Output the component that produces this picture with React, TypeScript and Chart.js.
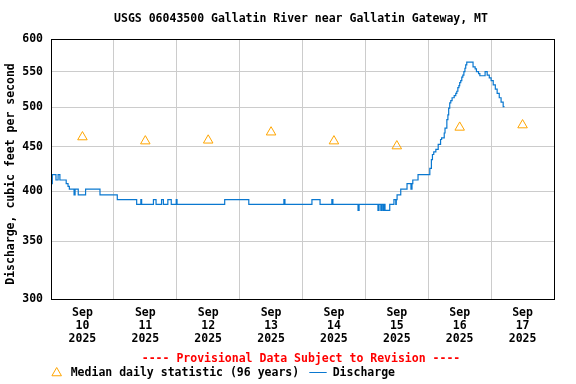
import React, { useEffect, useRef } from 'react';
import { Chart, registerables } from 'chart.js';

Chart.register(...registerables);

const TITLE = 'USGS 06043500 Gallatin River near Gallatin Gateway, MT';
const Y_TITLE = 'Discharge, cubic feet per second';
const PROVISIONAL = '---- Provisional Data Subject to Revision ----';
const MEDIAN_LABEL = 'Median daily statistic (96 years)';
const DISCHARGE_LABEL = 'Discharge';

const MONTH_LABEL = 'Sep';
const YEAR_LABEL = '2025';
const DAY_LABELS = ['10', '11', '12', '13', '14', '15', '16', '17'];
const Y_TICKS = [300, 350, 400, 450, 500, 550, 600];

// hours since Sep 10 00:00
const MEDIAN_HOURS = [12, 36, 60, 84, 108, 132, 156, 180];
const MEDIAN_VALUES = [462, 457, 458, 468, 457, 451, 474, 477];

const DISCHARGE_HOURS = [
  0.0, 0.1, 0.5, 1.9, 2.7, 3.4, 5.8, 6.5, 7.0, 8.8, 9.2, 10.4, 13.2, 18.7, 25.3, 32.7,
  34.3, 34.6, 39.1, 40.1, 42.2, 42.9, 44.6, 45.9, 47.8, 48.1, 66.3, 75.5, 88.9, 89.3,
  99.6, 102.7, 107.2, 107.6, 117.2, 117.6, 124.8, 125.2, 125.9, 126.3, 126.8, 127.1,
  127.5, 129.3, 130.9, 131.6, 131.8, 132.1, 133.5, 135.9, 137.4, 137.8, 138.1, 140.1,
  144.6, 145.2, 145.6, 146.1, 146.9, 147.8, 148.7, 149.1, 150.1, 150.4, 151.1, 151.5,
  151.8, 152.2, 152.6, 153.1, 153.9, 154.5, 154.9, 155.3, 155.7, 156.0, 156.4, 156.8,
  157.2, 157.6, 158.0, 158.3, 158.7, 161.1, 161.9, 162.4, 163.2, 163.7, 165.7, 166.5,
  167.3, 168.0, 168.8, 169.6, 170.3, 171.1, 171.8, 172.6, 173.1,
];
const DISCHARGE_VALUES = [
  401, 408, 418, 412, 418, 412, 408, 405, 402, 396, 402, 396, 402, 396, 391, 386,
  391, 386, 391, 386, 391, 386, 391, 386, 391, 386, 391, 386, 391, 386,
  391, 386, 391, 386, 380, 386, 380, 386, 380, 386, 380, 386,
  380, 386, 391, 386, 391, 396, 402, 408, 402, 408, 412, 418,
  425, 435, 441, 444, 447, 453, 459, 461, 467, 473, 484, 490,
  499, 506, 509, 513, 516, 519, 522, 527, 530, 534, 537, 542,
  545, 550, 555, 560, 564, 557, 554, 550, 547, 544, 550, 545,
  541, 537, 531, 525, 519, 513, 507, 501, 501,
];

const FONT_FAMILY = '"DejaVu Sans Mono", monospace';
const FONT = `bold 11.5px ${FONT_FAMILY}`;
const LINE_COLOR = '#0a78d0';
const MEDIAN_COLOR = '#ffa500';
const GRID_COLOR = '#cccccc';

const decorPlugin = {
  id: 'decor',
  afterDraw(chart: any) {
    const { ctx, chartArea } = chart;
    ctx.save();
    // frame
    ctx.strokeStyle = '#000';
    ctx.lineWidth = 1;
    const l = Math.round(chartArea.left) + 0.5;
    const t = Math.round(chartArea.top) + 0.5;
    const r = Math.round(chartArea.right) + 0.5;
    const b = Math.round(chartArea.bottom) + 0.5;
    ctx.strokeRect(l, t, r - l, b - t);

    ctx.font = FONT;
    ctx.textBaseline = 'middle';
    // title
    ctx.fillStyle = '#000';
    ctx.textAlign = 'center';
    ctx.fillText(TITLE, 301, 19);
    // y title
    ctx.save();
    ctx.translate(11.5, 174);
    ctx.rotate(-Math.PI / 2);
    ctx.fillText(Y_TITLE, 0, 0);
    ctx.restore();
    // provisional
    ctx.fillStyle = '#ff0000';
    ctx.fillText(PROVISIONAL, 301, 359);
    // legend
    ctx.textAlign = 'left';
    ctx.fillStyle = '#000';
    const cx = 56.7, cy = 373, rad = 5.5;
    ctx.beginPath();
    for (let i = 0; i < 3; i++) {
      const a = (i * 2 * Math.PI) / 3;
      const px = cx + Math.sin(a) * rad;
      const py = cy - Math.cos(a) * rad;
      if (i === 0) ctx.moveTo(px, py); else ctx.lineTo(px, py);
    }
    ctx.closePath();
    ctx.strokeStyle = MEDIAN_COLOR;
    ctx.stroke();
    ctx.fillText(MEDIAN_LABEL, 70.7, 373);
    ctx.beginPath();
    ctx.moveTo(309.3, 372.5);
    ctx.lineTo(326.7, 372.5);
    ctx.strokeStyle = LINE_COLOR;
    ctx.stroke();
    ctx.fillText(DISCHARGE_LABEL, 332.7, 373);
    ctx.restore();
  },
};

export default function App() {
  const ref = useRef<HTMLCanvasElement>(null);
  useEffect(() => {
    if (!ref.current) return;
    const tickFont = { family: FONT_FAMILY, size: 11.5, weight: 'bold' as const, lineHeight: 1.12 };
    const chart = new Chart(ref.current, {
      type: 'line',
      data: {
        datasets: [
          {
            label: DISCHARGE_LABEL,
            data: DISCHARGE_HOURS.map((h, i) => ({ x: h, y: DISCHARGE_VALUES[i] })),
            borderColor: LINE_COLOR,
            borderWidth: 1.2,
            pointRadius: 0,
            stepped: true,
            fill: false,
          },
          {
            label: MEDIAN_LABEL,
            data: MEDIAN_HOURS.map((h, i) => ({ x: h, y: MEDIAN_VALUES[i] })),
            showLine: false,
            pointStyle: 'triangle',
            pointRadius: 5.5,
            pointBorderColor: MEDIAN_COLOR,
            pointBackgroundColor: 'rgba(0,0,0,0)',
            pointBorderWidth: 1,
            borderColor: MEDIAN_COLOR,
          },
        ],
      },
      options: {
        responsive: false,
        animation: false,
        devicePixelRatio: 1,
        layout: { padding: { top: 39, right: 22, left: 0, bottom: 0 } },
        plugins: {
          legend: { display: false },
          title: { display: false },
          tooltip: { enabled: false },
        },
        scales: {
          x: {
            type: 'linear',
            min: 0,
            max: 192,
            afterBuildTicks: (s: any) => {
              const t = [];
              for (let v = 0; v <= 192; v += 12) t.push({ value: v });
              s.ticks = t;
            },
            afterFit: (s: any) => { s.height = 85; },
            ticks: {
              autoSkip: false,
              maxRotation: 0,
              minRotation: 0,
              padding: 8,
              color: '#000',
              font: tickFont,
              callback: (v: any) => {
                const n = Number(v);
                if (n % 24 !== 12) return '';
                const idx = Math.floor(n / 24);
                return [MONTH_LABEL, DAY_LABELS[idx], YEAR_LABEL];
              },
            },
            grid: {
              drawTicks: false,
              color: (c: any) => (c.tick && c.tick.value % 24 === 0 ? GRID_COLOR : 'rgba(0,0,0,0)'),
              lineWidth: 1,
            },
            border: { display: true, color: '#000' },
          },
          y: {
            type: 'logarithmic',
            min: 300,
            max: 600,
            afterBuildTicks: (s: any) => {
              s.ticks = Y_TICKS.map((v) => ({ value: v }));
            },
            afterFit: (s: any) => { s.width = 51; },
            ticks: {
              padding: 8,
              color: '#000',
              font: tickFont,
              callback: (v: any) => String(v),
            },
            grid: { drawTicks: false, color: GRID_COLOR, lineWidth: 1 },
            border: { display: true, color: '#000' },
          },
        },
      },
      plugins: [decorPlugin],
    });
    return () => chart.destroy();
  }, []);
  return (
    <div style={{ position: 'fixed', left: 0, top: 0, width: 576, height: 384, background: '#fff' }}>
      <canvas ref={ref} width={576} height={384} />
    </div>
  );
}
